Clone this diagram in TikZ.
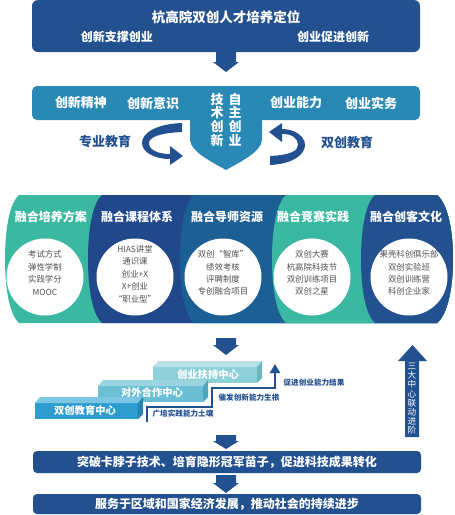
\documentclass[tikz,border=0pt]{standalone}
\usepackage{fontspec}
\setmainfont{Noto Sans CJK SC}
\usetikzlibrary{arrows.meta}
\definecolor{navy}{HTML}{23508F}
\definecolor{bandblue}{HTML}{2A88B5}
\definecolor{tealp}{HTML}{3BB8A1}
\definecolor{navyp}{HTML}{22488C}
\definecolor{midp}{HTML}{1C5F95}
\definecolor{circtext}{HTML}{505050}
\definecolor{bAfront}{HTML}{2D9DCF}
\definecolor{bAtop}{HTML}{7CC6E3}
\definecolor{bAside}{HTML}{2683B0}
\definecolor{bBfront}{HTML}{6ABFD4}
\definecolor{bBtop}{HTML}{9AD4E2}
\definecolor{bBside}{HTML}{4FA5BE}
\definecolor{bCfront}{HTML}{8ED0D7}
\definecolor{bCtop}{HTML}{B6E1E6}
\definecolor{bCside}{HTML}{6CB6C0}
\newcommand\dnarrow[4]{\fill[navy] (#1-10,#2) -- (#1+10,#2) -- (#1+10,#3) -- (#1+13,#3) -- (#1,#4) -- (#1-13,#3) -- (#1-10,#3) -- cycle;}
\newcommand\panelshape[1]{(#1+14,195) -- (437,195) .. controls (449,205) and (453,235) .. (453,259) .. controls (453,283) and (449,313) .. (437,323) -- (#1+14,323) .. controls (#1+3,313) and (#1,283) .. (#1,259) .. controls (#1,235) and (#1+3,205) .. (#1+14,195) -- cycle}
\tikzset{
  wt/.style={text=white, font=\bfseries\fontsize{#1}{#1}\selectfont, inner sep=0pt},
  vt/.style={text=white, font=\bfseries\fontsize{13}{13.6}\selectfont, inner sep=0pt, align=center},
  ct/.style={text=circtext, font=\fontsize{8.4}{12.4}\selectfont, inner sep=0pt, align=center},
  lt/.style={text=navy, font=\bfseries\fontsize{7.6}{7.6}\selectfont, inner sep=0pt},
  circ/.style={circle, fill=white, minimum size=77pt, inner sep=0pt},
}
\begin{document}
\begin{tikzpicture}[x=1pt,y=-1pt]
\useasboundingbox (0,0) rectangle (455,515);
% top box
\fill[navy, rounded corners=6] (32,0) rectangle (420,52);
\node[wt=13.5] (title) at (226,17) {杭高院双创人才培养定位};
\node[wt=12] (s1) at (117,37) {创新支撑创业};
\node[wt=12] (s2) at (333,37) {创业促进创新};
\dnarrow{226}{52}{62}{72}
% band 2
\fill[bandblue, rounded corners=5] (32,86) rectangle (420,120);
\fill[bandblue] (190,110) -- (190,140) .. controls (191,152) and (212,162) .. (226,170) .. controls (240,162) and (261,152) .. (262,140) -- (262,110) -- cycle;
\node[wt=13] (b1) at (81,103) {创新精神};
\node[wt=13] (b2) at (153,103) {创新意识};
\node[wt=13] (b3) at (296,103) {创业能力};
\node[wt=13] (b4) at (371,103) {创业实务};
\node[vt, anchor=north] (v1) at (217,93) {技\\术\\创\\新};
\node[vt, anchor=north] (v2) at (235,93) {自\\主\\创\\业};
% curved arrows
\fill[navy] (182,123) .. controls (156,124) and (142,133) .. (142,143) .. controls (142,152) and (154,159) .. (170,159) -- (170,165) -- (183,156) -- (170,146) -- (170,154) .. controls (158,154) and (149,150) .. (149,143) .. controls (149,137) and (160,133) .. (182,132) -- cycle;
\fill[navy] (270,165) .. controls (292,164) and (305,155) .. (305,145) .. controls (305,136) and (294,129) .. (282,129) -- (282,123) -- (269,132) -- (282,142) -- (282,134) .. controls (292,134) and (298,138) .. (298,145) .. controls (298,151) and (290,155) .. (270,156) -- cycle;
\node[text=navy, font=\bfseries\fontsize{13}{13}\selectfont, inner sep=0pt] (e1) at (105,142) {专业教育};
\node[text=navy, font=\bfseries\fontsize{13}{13}\selectfont, inner sep=0pt] (e2) at (347,142) {双创教育};
% panels
\fill[tealp] \panelshape{5};
\fill[navyp] \panelshape{88};
\fill[midp] \panelshape{180};
\fill[tealp] \panelshape{272};
\fill[navy] \panelshape{361};
\node[wt=12] (h1) at (51,217) {融合培养方案};
\node[wt=12] (h2) at (137,217) {融合课程体系};
\node[wt=12] (h3) at (227,217) {融合导师资源};
\node[wt=12] (h4) at (313,217) {融合竞赛实践};
\node[wt=12] (h5) at (406,217) {融合创客文化};
\node[circ] (c1) at (45,277) {};
\node[circ] (c2) at (135,277) {};
\node[circ] (c3) at (223,277) {};
\node[circ] (c4) at (312,277) {};
\node[circ] (c5) at (409,277) {};
\node[ct] (t1) at (45,273) {考试方式\\弹性学制\\实践学分\\MOOC};
\node[ct] (t2) at (135,274) {HIAS讲堂\\通识课\\创业+X\\X+创业\\“职业型”};
\node[ct] (t3) at (223,273) {双创“智库”\\绩效考核\\评聘制度\\专创融合项目};
\node[ct] (t4) at (312,273) {双创大赛\\杭高院科技节\\双创训练项目\\双创之星};
\node[ct] (t5) at (409,273) {果壳科创俱乐部\\双创实验班\\双创训练营\\科创企业家};
\dnarrow{226}{338}{345}{355}
% stairs
\fill[bCfront] (153,367) rectangle (257,383);
\fill[bCtop] (153,367) -- (158,361) -- (262,361) -- (257,367) -- cycle;
\fill[bCside] (257,367) -- (262,361) -- (262,378) -- (257,383) -- cycle;
\fill[bBfront] (98,386) rectangle (203,402);
\fill[bBtop] (98,386) -- (103,380) -- (208,380) -- (203,386) -- cycle;
\fill[bBside] (203,386) -- (208,380) -- (208,397) -- (203,402) -- cycle;
\fill[bAfront] (35,403) rectangle (138,419);
\fill[bAtop] (35,403) -- (40,397) -- (143,397) -- (138,403) -- cycle;
\fill[bAside] (138,403) -- (143,397) -- (143,414) -- (138,419) -- cycle;
\node[wt=10.3] (k1) at (85,411) {双创教育中心};
\node[wt=10.3] (k2) at (152,393) {对外合作中心};
\node[wt=10.3] (k3) at (208,375) {创业扶持中心};
\draw[navy, line width=2.5pt, -{Triangle[width=10pt,length=9pt]}] (147,422) -- (147,407) -- (212,407) -- (212,388) -- (275,388) -- (275,364);
\node[lt] (l1) at (183,414) {广培实践能力土壤};
\node[lt] (l2) at (249,398) {催发创新能力生根};
\node[lt] (l3) at (314,383) {促进创业能力结果};
% right vertical arrow
\fill[navy] (405,437) -- (405,361) -- (398,361) -- (412.5,345) -- (427,361) -- (419,361) -- (419,437) -- cycle;
\node[text=white, font=\fontsize{8.6}{9.2}\selectfont, inner sep=0pt, align=center, anchor=north] (va) at (412,363) {三\\大\\中\\心\\联\\动\\进\\阶};
% bottom
\dnarrow{226}{435}{441}{449}
\fill[navy, rounded corners=4] (33,451) rectangle (421,473);
\node[wt=12] (f1) at (227,462) {突破卡脖子技术、培育隐形冠军苗子，促进科技成果转化};
\dnarrow{226}{475}{483}{493}
\fill[navy, rounded corners=4] (33,494) rectangle (421,514);
\node[wt=12] (f2) at (227,504) {服务于区域和国家经济发展，推动社会的持续进步};
\end{tikzpicture}
\end{document}
